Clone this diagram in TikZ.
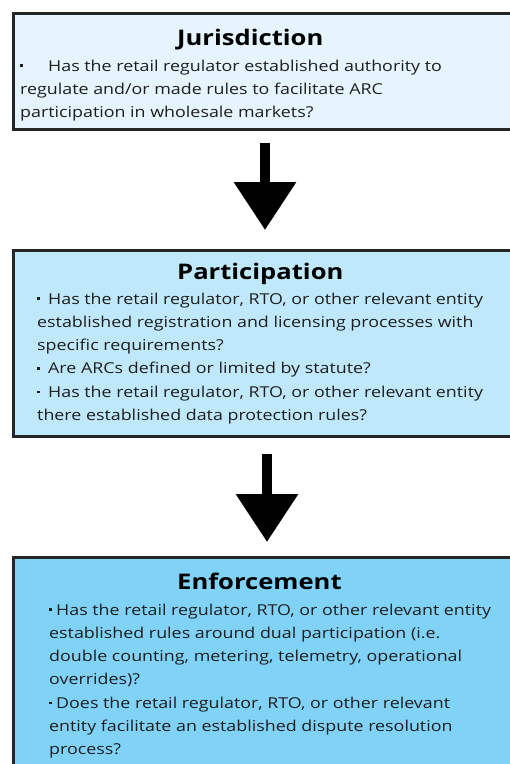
\documentclass[tikz,border=0pt]{standalone}
\usepackage{fontspec}
\setmainfont{Open Sans}[FakeStretch=1.19]
\usetikzlibrary{arrows.meta,positioning}

\definecolor{jurisfill}{HTML}{E6F5FD}
\definecolor{partfill}{HTML}{BFE9FB}
\definecolor{enffill}{HTML}{80D3F7}
\definecolor{bodytext}{HTML}{1E1E1E}

% one bullet line, #1 = gap from bullet to text
\newcommand{\bul}[2]{\par\hangindent=#1\hangafter=1\noindent\makebox[#1][l]{\rule[4pt]{2.6pt}{2.6pt}}#2}
\newcommand{\bullist}[1]{\parbox[t]{470pt}{\raggedright #1}}

\begin{document}
\begin{tikzpicture}[x=1pt, y=-1pt,
        panel/.style={draw=black!85, line width=3pt, rectangle, anchor=north west, inner sep=0pt, minimum width=503pt},
        heading/.style={anchor=base west, inner sep=0pt, font=\fontsize{21.5}{26}\selectfont\bfseries},
        body/.style={anchor=base west, inner sep=0pt, text=bodytext, font=\fontsize{15}{23.3}\selectfont},
        bigarrow/.style={line width=10pt, -{Triangle[length=48pt, width=60pt]}}
    ]
    \useasboundingbox (0,0) rectangle (510,764);
    \clip (0,0) rectangle (510,764);

    \node[panel, fill=jurisfill, minimum height=116pt] (juris) at (12,12) {};
    \node[panel, fill=partfill, minimum height=186pt] (part) at (12,249) {};
    \node[panel, fill=enffill, minimum height=230pt] (enf) at (12,556) {};

    \node[heading] (jurisT) at (177,45) {Jurisdiction};
    \node[body] (jurisB) at (20,71) {\bullist{
        \bul{28pt}{Has the retail regulator established authority to\\
        regulate and/or made rules to facilitate ARC\\
        participation in wholesale markets?}}};

    \node[heading] (partT) at (177,279) {Participation};
    \node[body] (partB) at (37,304) {\bullist{
        \bul{11pt}{Has the retail regulator, RTO, or other relevant entity\\
        established registration and licensing processes with\\
        specific requirements?}
        \bul{11pt}{Are ARCs defined or limited by statute?}
        \bul{11pt}{Has the retail regulator, RTO, or other relevant entity\\
        there established data protection rules?}}};

    \node[heading] (enfT) at (177,589) {Enforcement};
    \node[body] (enfB) at (49,615) {\bullist{
        \bul{7pt}{Has the retail regulator, RTO, or other relevant entity\\
        established rules around dual participation (i.e.\\
        double counting, metering, telemetry, operational\\
        overrides)?}
        \bul{7pt}{Does the retail regulator, RTO, or other relevant\\
        entity facilitate an established dispute resolution\\
        process?}}};

    \draw[bigarrow, shorten <=12pt, shorten >=19pt] (juris.south) -- (part.north);
    \draw[bigarrow, shorten <=16pt, shorten >=14pt] ([xshift=2pt]part.south) -- ([xshift=2pt]enf.north);
\end{tikzpicture}
\end{document}
